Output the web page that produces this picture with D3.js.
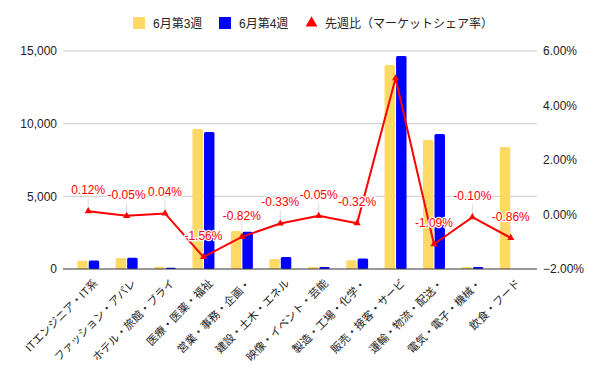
<!DOCTYPE html>
<html><head><meta charset="utf-8">
<script src="https://cdn.jsdelivr.net/npm/d3@7"></script>
<style>
body{margin:0;background:#fff;}
text{font-family:"Liberation Sans",Arial,"Noto Sans CJK JP",sans-serif;}
</style></head>
<body><svg id="c" width="600" height="371"></svg>
<script>
const categories = ["ITエンジニア・IT系","ファッション・アパレ","ホテル・旅館・ブライ","医療・医薬・福祉","営業・事務・企画・","建設・土木・エネル","映像・イベント・芸能","製造・工場・化学・","販売・接客・サービ","運輸・物流・配送・","電気・電子・機械・","飲食・フード"];
const week3 = [560, 750, 160, 9630, 2620, 690, 140, 600, 14040, 8880, 140, 8400];
const week4 = [580, 770, 90, 9430, 2570, 820, 140, 730, 14660, 9290, 140, 0];
const ratio = [0.12, -0.05, 0.04, -1.56, -0.82, -0.33, -0.05, -0.32, 5.0, -1.09, -0.10, -0.86];
const ratioLabels = ["0.12%","-0.05%","0.04%","-1.56%","-0.82%","-0.33%","-0.05%","-0.32%","","-1.09%","-0.10%","-0.86%"];
const leftTicks = [0, 5000, 10000, 15000];
const rightTicks = [-2, 0, 2, 4, 6];
const seriesNames = ["6月第3週","6月第4週","先週比（マーケットシェア率）"];
const colors = ["#ffd966","#0000ff","#ff0000"];

const svg = d3.select("#c");
const pTop = 51, pBottom = 269, gl = 63, gr = 537;
const x = d3.scaleBand().domain(categories).range([69, 530]).padding(0);
const xs = d3.scaleBand().domain([0,1]).range([0, 22]).paddingInner(0.09);
const y = d3.scaleLinear().domain([0, 15000]).range([pBottom, pTop]);
const y2 = d3.scaleLinear().domain([-2, 6]).range([pBottom, pTop]);

// gridlines
svg.append("g").selectAll("line").data(leftTicks.filter(d=>d>0)).join("line")
  .attr("x1", gl).attr("x2", gr).attr("y1", d=>y(d)).attr("y2", d=>y(d))
  .attr("stroke", "#cccccc").attr("stroke-width", 1);

// left axis
const la = svg.append("g").attr("transform", `translate(${gl},0)`)
  .call(d3.axisLeft(y).tickValues(leftTicks).tickSize(0).tickPadding(6).tickFormat(d3.format(",")));
la.select(".domain").remove();
la.selectAll("text").attr("font-size", 12).attr("fill", "#222").attr("font-family", "Liberation Sans, Arial, sans-serif");

// right axis
const ra = svg.append("g").attr("transform", `translate(${gr},0)`)
  .call(d3.axisRight(y2).tickValues(rightTicks).tickSize(0).tickPadding(6).tickFormat(d=>d3.format(".2f")(d)+"%"));
ra.select(".domain").remove();
ra.selectAll("text").attr("font-size", 12).attr("fill", "#222").attr("font-family", "Liberation Sans, Arial, sans-serif");

// bars
const series = [week3, week4];
series.forEach((vals, si) => {
  svg.append("g").selectAll("rect").data(vals.map((v,i)=>({v, c:categories[i]})).filter(d=>d.v>0)).join("rect")
    .attr("x", d => x(d.c) + x.bandwidth()/2 - 11 + xs(si))
    .attr("width", xs.bandwidth())
    .attr("y", d => y(d.v))
    .attr("height", d => pBottom - y(d.v))
    .attr("rx", 1.5)
    .attr("fill", colors[si]);
});

// baseline
svg.append("line").attr("x1", gl).attr("x2", gr).attr("y1", pBottom).attr("y2", pBottom)
  .attr("stroke", "#333").attr("stroke-width", 1);

// x labels
const xa = svg.append("g").attr("transform", `translate(0,${pBottom})`)
  .call(d3.axisBottom(x).tickSize(0).tickPadding(0));
xa.select(".domain").remove();
xa.selectAll("text")
  .attr("font-size", 11).attr("fill", "#222")
  .attr("font-family", "'Noto Sans CJK JP', sans-serif")
  .attr("text-anchor", "end")
  .attr("dy", null).attr("y", 0)
  .attr("transform", "translate(10,15) rotate(-45)");

// line
const cx = (c) => x(c) + x.bandwidth()/2;
const pts = ratio.map((v,i)=>({v, c:categories[i], l:ratioLabels[i]}));
svg.append("g").selectAll("line").data(pts.filter(d=>d.l)).join("line")
  .attr("x1", d=>cx(d.c)).attr("x2", d=>cx(d.c))
  .attr("y1", d=>y2(d.v)-2).attr("y2", d=>y2(d.v)-13)
  .attr("stroke", "#dddddd").attr("stroke-width", 1);
svg.append("path").datum(pts)
  .attr("d", d3.line().x(d=>cx(d.c)).y(d=>y2(d.v)))
  .attr("fill", "none").attr("stroke", colors[2]).attr("stroke-width", 2);
svg.append("g").selectAll("path").data(pts).join("path")
  .attr("transform", d=>`translate(${cx(d.c)},${y2(d.v)})`)
  .attr("d", d3.symbol(d3.symbolTriangle, 22))
  .attr("fill", colors[2]);
svg.append("g").selectAll("text").data(pts.filter(d=>d.l)).join("text")
  .attr("x", d=>cx(d.c)).attr("y", d=>y2(d.v)-17)
  .attr("text-anchor", "middle").attr("font-size", 12)
  .attr("fill", colors[2])
  .attr("stroke", "#fff").attr("stroke-width", 2.5).attr("paint-order", "stroke")
  .attr("stroke-linejoin", "round")
  .text(d=>d.l);

// legend
const lg = svg.append("g");
const lx = [133, 219, 306];
seriesNames.forEach((n,i)=>{
  if (i<2) lg.append("rect").attr("x", lx[i]).attr("y", 17).attr("width", 12).attr("height", 12).attr("fill", colors[i]);
  else lg.append("path").attr("transform", `translate(${lx[i]+5.5},23)`).attr("d", d3.symbol(d3.symbolTriangle, 60)).attr("fill", colors[i]);
  lg.append("text").attr("x", lx[i] + (i<2?20:19)).attr("y", 27.5).attr("font-size", 12).attr("fill", "#222")
    .attr("font-family", "'Noto Sans CJK JP', sans-serif").text(n);
});
</script></body></html>
